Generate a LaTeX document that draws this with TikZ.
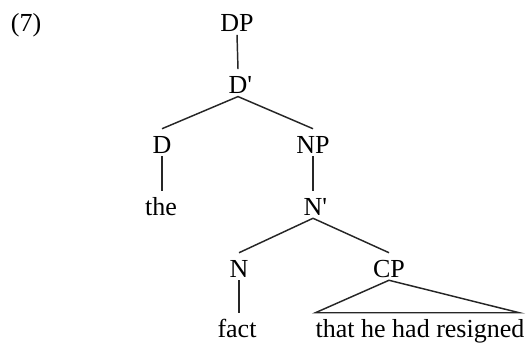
\documentclass[tikz,border=0pt]{standalone}
\usepackage{fontspec}
\setmainfont{Liberation Serif}

\begin{document}
\begin{tikzpicture}[
  x=0.75pt,
  y=-0.75pt,
  font=\fontsize{19.5}{23}\selectfont,
  cat/.style={inner sep=0pt, text height=18pt, text depth=2.25pt, anchor=base},
  word/.style={inner sep=0pt, text height=18pt, text depth=2.25pt, anchor=base},
  branch/.style={line width=1.1pt, black!85}
]
\useasboundingbox (0,0) rectangle (530,342);
\node[cat] (num) at (26,31.5) {(7)};
\node[cat] (dp) at (237,31.5) {DP};
\node[cat] (dbar) at (238,93.3) {D\rlap{\textquotesingle}};
\node[cat] (d) at (162,153) {D};
\node[cat] (np) at (313,153) {NP};
\node[word] (the) at (161,215) {the};
\node[cat] (nbar) at (313,215) {N\rlap{\textquotesingle}};
\node[cat] (n) at (239,277) {N};
\node[cat] (cp) at (389,277) {CP};
\node[word] (fact) at (237,337) {fact};
\node[word] (that) at (420,337) {that he had resigned};
% branches
\draw[branch] (dp.south) -- (dbar.north);
\draw[branch] (dbar.south) -- (d.north);
\draw[branch] (dbar.south) -- (np.north);
\draw[branch] (d.south) -- (d.south |- the.north);
\draw[branch] (np.south) -- (nbar.north);
\draw[branch] (nbar.south) -- (n.north);
\draw[branch] (nbar.south) -- (cp.north);
\draw[branch] (n.south) -- (n.south |- fact.north);
\draw[branch] (cp.south) -- (that.north west) -- ([xshift=-4pt]that.north east) -- cycle;
\end{tikzpicture}
\end{document}
